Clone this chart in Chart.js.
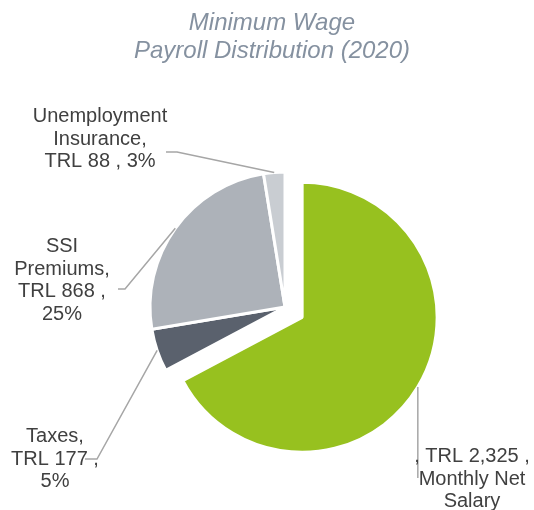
<!DOCTYPE html>
<html>
<head>
<meta charset="utf-8">
<script src="https://cdn.jsdelivr.net/npm/chart.js@4"></script>
<style>
  html, body { margin: 0; padding: 0; background: #fff; }
  #wrap { width: 534px; height: 510px; }
</style>
</head>
<body>
<div id="wrap"><canvas id="chart"></canvas></div>
<script>
// Payroll split of the 2020 minimum wage (TRL)
const categories = ['Monthly Net Salary', 'Taxes', 'SSI Premiums', 'Unemployment Insurance'];
const amounts = [2325, 177, 868, 88];
const sliceColors = ['#97c11f', '#5a616d', '#adb2b9', '#c9cdd2'];
const titleLines = ['Minimum Wage', 'Payroll Distribution (2020)'];

const total = amounts.reduce((a, b) => a + b, 0);
const trl = i => 'TRL ' + amounts[i].toLocaleString('en-US');
const pct = i => Math.round(amounts[i] / total * 100) + '%';

// label text, wrapped the way the original chart wraps it
const labelLines = [
    [', ' + trl(0) + ' ,', 'Monthly Net', 'Salary'],
    ['Taxes,', trl(1) + ' ,', pct(1)],
    ['SSI', 'Premiums,', trl(2) + ' ,', pct(2)],
    ['Unemployment', 'Insurance,', trl(3) + ' , ' + pct(3)]
];

// where each label block sits and how its leader line bends (null = keep slice x)
const labelPlace = [
    { x: 472, y: 462, leader: [[null, 478]] },
    { x: 55, y: 442, leader: [[97, 459], [85, 459]] },
    { x: 62, y: 252, leader: [[125, 289], [118, 289]] },
    { x: 100, y: 122, leader: [[177, 152], [166, 152]] }
];

const FONT = '"Liberation Sans", Arial, sans-serif';
const EXPLODE = 20;

// pull the first slice out along its bisector
const explodePlugin = {
    id: 'explode',
    afterDatasetUpdate(chart, args) {
        const arc = args.meta.data[0];
        if (!arc) return;
        const mid = (arc.startAngle + arc.endAngle) / 2;
        arc.x += Math.cos(mid) * EXPLODE;
        arc.y += Math.sin(mid) * EXPLODE;
    }
};

// title + callout labels with leader lines
const labelPlugin = {
    id: 'callouts',
    afterDatasetsDraw(chart) {
        const ctx = chart.ctx;
        const arcs = chart.getDatasetMeta(0).data;
        ctx.save();

        ctx.font = 'italic 24px ' + FONT;
        ctx.fillStyle = '#8591a0';
        ctx.textAlign = 'center';
        ctx.textBaseline = 'middle';
        titleLines.forEach((t, i) => ctx.fillText(t, 272, 23.5 + i * 27.5));

        ctx.strokeStyle = '#a6a6a6';
        ctx.lineWidth = 1.5;
        arcs.forEach((arc, i) => {
            const mid = (arc.startAngle + arc.endAngle) / 2;
            const r = arc.outerRadius;
            const sx = arc.x + Math.cos(mid) * r;
            const sy = arc.y + Math.sin(mid) * r;
            ctx.beginPath();
            ctx.moveTo(sx, sy);
            labelPlace[i].leader.forEach(p => ctx.lineTo(p[0] === null ? sx : p[0], p[1]));
            ctx.stroke();
        });

        ctx.font = '20px ' + FONT;
        ctx.fillStyle = '#404040';
        ctx.textBaseline = 'alphabetic';
        labelLines.forEach((lines, i) => {
            const p = labelPlace[i];
            lines.forEach((t, j) => ctx.fillText(t, p.x, p.y + j * 22.5));
        });
        ctx.restore();
    }
};

new Chart(document.getElementById('chart').getContext('2d'), {
    type: 'pie',
    data: {
        labels: categories,
        datasets: [{
            data: amounts,
            backgroundColor: sliceColors,
            borderColor: '#ffffff',
            borderWidth: 3
        }]
    },
    options: {
        responsive: true,
        maintainAspectRatio: false,
        animation: false,
        events: [],
        radius: 135,
        layout: { padding: { top: 104, left: 36, right: 0, bottom: 0 } },
        plugins: {
            legend: { display: false },
            tooltip: { enabled: false },
            title: { display: false }
        }
    },
    plugins: [explodePlugin, labelPlugin]
});
</script>
</body>
</html>
